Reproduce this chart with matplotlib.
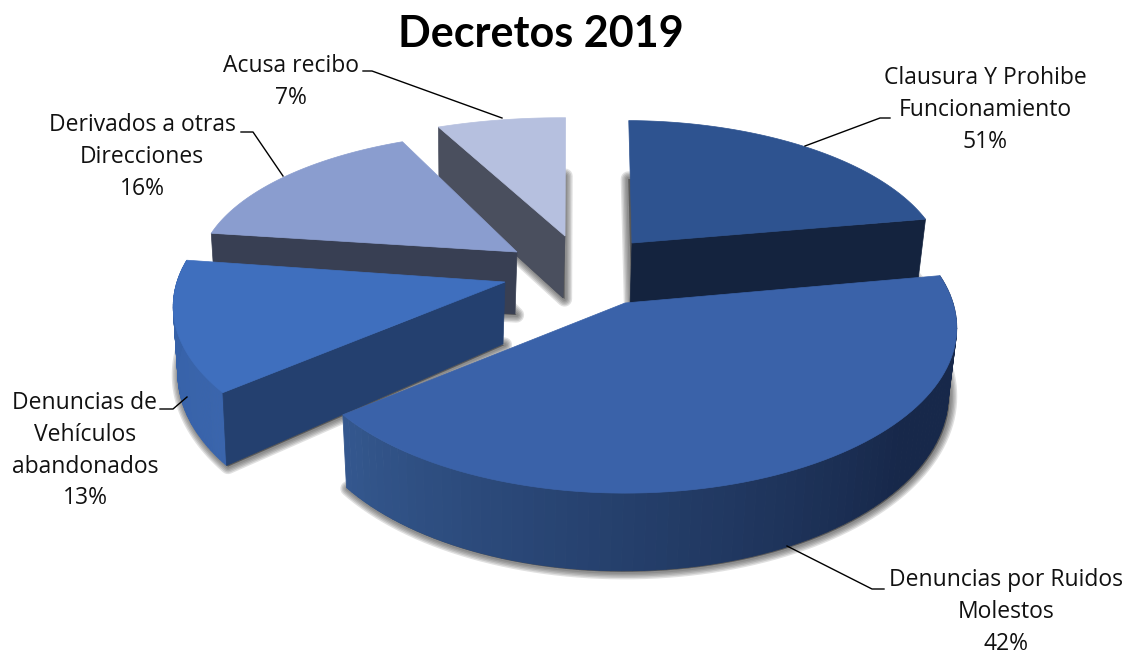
import numpy as np
import matplotlib
matplotlib.use("Agg")
import matplotlib.pyplot as plt
from matplotlib.colors import to_rgb
from matplotlib.patches import Polygon

# datos
categorias = ["Clausura Y Prohibe\nFuncionamiento", "Denuncias por Ruidos\nMolestos",
              "Denuncias de\nVehículos\nabandonados", "Derivados a otras\nDirecciones", "Acusa recibo"]
porcentajes = [51, 42, 13, 16, 7]      # lo que dicen las etiquetas
porciones = [22, 42, 13, 16, 7]        # lo que se ve en el dibujo

# estilo
colores_tapa = ["#2e5390", "#3a62a9", "#3f6fbe", "#8a9dcf", "#b6c0df"]
colores_cara = ["#14233e", None, "#24406f", "#383f53", "#4a4f5e"]
pared_ini = ["#14233e", "#34588f", "#3a65ad", "#383f53", "#4a4f5e"]
pared_fin = ["#14233e", "#17284a", "#3560a6", "#383f53", "#4a4f5e"]
puntas = [(632, 243), (625, 303), (505, 282), (517, 252), (565, 236)]
ajustes = [(0.96, 0.88, 0.057), (1.025, 1.01, 0), (1.025, 1, 0), (0.985, 0.86, 0), (1.06, 0.85, 0.03)]
lado_visible = [1, None, 0, 0, 0]
con_pared = [False, True, True, False, False]
orden = [4, 3, 0, 2, 1]
pos_texto = [(985, 78), (1006, 580), (85, 403), (142, 125), (291, 66)]
guias = [[(890, 118), (880, 118), (805, 146)],
         [(884, 589), (872, 589), (787, 546)],
         [(160, 409), (173, 409), (187, 397)],
         [(241, 132), (253, 132), (283, 176)],
         [(363, 71), (372, 71), (502, 118)]]

A, B, P, ALTO = 320, 160, 0.15, 66
INICIO = -10


def borde(theta, punta, aj):
    u, v = np.cos(np.radians(theta)), np.sin(np.radians(theta))
    w = 1 - P * v
    dx, dy = A * u / w * aj[0], B * v / w * aj[1]
    x = punta[0] + dx + aj[2] * dy
    y = punta[1] + dy
    return x, y, dx, ALTO / w


def abajo(x, y, punta, h):
    # la base converge un poco hacia la punta
    return punta[0] - 2 + (x - punta[0]) * 0.98, y + h


def mezcla(c1, c2, t):
    return tuple((1 - t) * np.array(to_rgb(c1)) + t * np.array(to_rgb(c2)))


fig, ax = plt.subplots(figsize=(11.32, 6.56), dpi=100)
ax.set_position([0, 0, 1, 1])
ax.set_xlim(0, 1132)
ax.set_ylim(656, 0)
ax.axis("off")

# angulos de cada porcion, desde Ruidos en sentido horario
total = sum(porciones)
limites = {}
ang = INICIO
for i in [1, 2, 3, 4, 0]:
    paso = porciones[i] / total * 360
    limites[i] = (ang, ang + paso)
    ang += paso

z = 1
for i in orden:
    t0, t1 = limites[i]
    thetas = np.linspace(t0, t1, 90)
    punta, aj = puntas[i], ajustes[i]
    x, y, _, h = np.array([borde(t, punta, aj) for t in thetas]).T
    xb, yb = abajo(x, y, punta, h)
    pb = (punta[0] - 2, punta[1] + 62)

    # sombra: trazos grises alrededor de la base
    base = np.vstack([[pb], np.column_stack([xb, yb])])
    for ancho in [11, 9, 7, 5, 3]:
        ax.add_patch(Polygon(base + [1.5, 1], closed=True, facecolor="#333333", edgecolor="#333333",
                             linewidth=ancho, alpha=0.15, joinstyle="round", zorder=z))
    z += 1

    # pared exterior con degradado
    if con_pared[i]:
        for k in range(len(thetas) - 1):
            color = mezcla(pared_ini[i], pared_fin[i], np.clip((t1 - thetas[k]) / max(t1 - max(t0, 40), 1), 0, 1)) if i == 1 \
                else mezcla(pared_ini[i], pared_fin[i], k / (len(thetas) - 1))
            quad = [(x[k], y[k]), (x[k + 1], y[k + 1]), (xb[k + 1], yb[k + 1]), (xb[k], yb[k])]
            ax.add_patch(Polygon(quad, closed=True, facecolor=color, edgecolor=color, linewidth=0.6, zorder=z))
        z += 1

    # cara del corte
    if lado_visible[i] is not None:
        j = 0 if lado_visible[i] == 0 else -1
        cara = [punta, (x[j], y[j]), (xb[j], yb[j]), pb]
        ax.add_patch(Polygon(cara, closed=True, facecolor=colores_cara[i], edgecolor=colores_cara[i],
                             linewidth=0.5, zorder=z))
        z += 1

    # tapa
    tapa = np.vstack([[punta], np.column_stack([x, y])])
    ax.add_patch(Polygon(tapa, closed=True, facecolor=colores_tapa[i], edgecolor=colores_tapa[i],
                         linewidth=0.5, zorder=z))
    z += 1

for nombre, pct, pos, guia in zip(categorias, porcentajes, pos_texto, guias):
    lineas = nombre.split("\n") + [f"{pct}%"]
    for n, linea in enumerate(lineas):
        ax.text(pos[0], pos[1] + n * 31.8, linea, ha="center", va="center", fontsize=16.5,
                family="Open Sans", color="#111111", zorder=z + 1)
    gx, gy = zip(*guia)
    ax.plot(gx, gy, color="black", linewidth=1.0, zorder=z + 1)

ax.text(541, 34, "Decretos 2019", ha="center", va="center", fontsize=31, fontweight="bold",
        family="Lato", color="black", zorder=z + 1)

fig.savefig("out.png", dpi=100, facecolor="white")
